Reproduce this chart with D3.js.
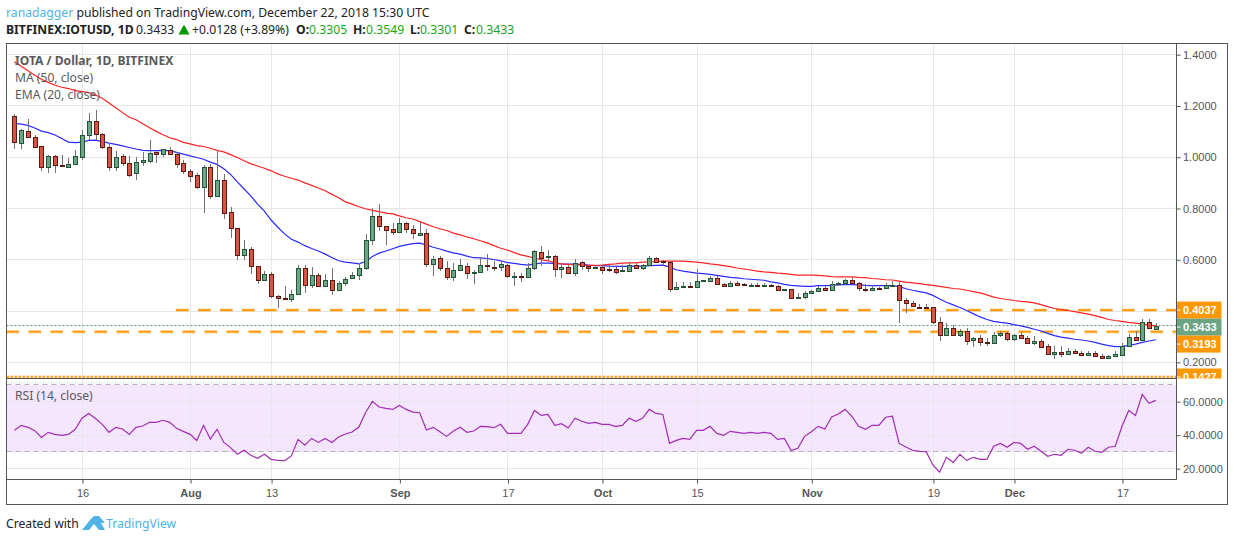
<!DOCTYPE html>
<html><head><meta charset="utf-8">
<script src="https://cdn.jsdelivr.net/npm/d3@7"></script>
<style>
html,body{margin:0;padding:0;background:#fff;overflow:hidden}
svg{display:block}
.head{font-family:"Noto Sans",sans-serif;font-size:12.2px;fill:#222}
.leg{font-family:"Noto Sans",sans-serif;font-size:12.1px;fill:#5a5a5a}
.ax text{font-family:"Liberation Sans",Arial,sans-serif;font-size:11px;fill:#555}
</style></head><body><svg id="c" width="1234" height="541"></svg>
<script>
const startDate = "2018-07-06";
const opens = [1.159,1.054,1.104,1.080,1.042,.960,1.003,.969,.960,.972,1.001,1.088,1.140,1.092,1.040,.962,1.004,.979,.937,.983,.987,1.021,1.014,1.030,1.014,.979,.947,.929,.885,.960,.850,.913,.785,.723,.617,.642,.574,.520,.545,.459,.451,.446,.467,.568,.500,.540,.498,.521,.481,.508,.527,.539,.566,.677,.770,.731,.719,.710,.743,.719,.698,.703,.582,.606,.566,.533,.560,.574,.548,.552,.580,.572,.570,.580,.535,.537,.532,.566,.630,.609,.614,.564,.572,.550,.591,.577,.568,.572,.565,.564,.556,.558,.580,.566,.578,.606,.595,.592,.485,.494,.498,.494,.516,.516,.529,.506,.496,.510,.506,.500,.503,.500,.503,.498,.482,.486,.450,.454,.469,.477,.490,.481,.504,.508,.521,.510,.486,.481,.491,.488,.499,.502,.444,.432,.417,.416,.416,.358,.306,.335,.306,.323,.287,.296,.280,.275,.308,.313,.291,.305,.296,.276,.282,.262,.234,.241,.232,.243,.238,.230,.238,.226,.217,.226,.228,.263,.300,.287,.358,.3305];
const highs = [1.167,1.109,1.151,1.088,1.045,1.010,1.010,1.008,.997,1.027,1.105,1.172,1.185,1.096,1.054,1.025,1.014,1.005,1.001,1.021,1.066,1.028,1.034,1.040,1.021,.988,.953,.937,.970,.973,1.030,.934,.805,.725,.678,.651,.576,.557,.553,.464,.499,.483,.580,.580,.573,.548,.546,.569,.517,.533,.553,.587,.701,.801,.817,.733,.744,.762,.748,.736,.746,.720,.613,.613,.595,.587,.604,.587,.561,.612,.622,.597,.597,.582,.553,.549,.587,.639,.654,.639,.619,.580,.580,.604,.597,.581,.578,.581,.581,.572,.581,.591,.587,.583,.616,.610,.600,.595,.512,.514,.514,.564,.522,.538,.538,.508,.517,.518,.510,.510,.511,.510,.507,.503,.487,.487,.470,.480,.483,.499,.496,.518,.515,.526,.531,.515,.507,.503,.492,.508,.518,.515,.452,.441,.429,.429,.416,.375,.355,.344,.328,.335,.297,.305,.293,.320,.324,.320,.309,.320,.301,.301,.289,.270,.262,.262,.254,.250,.243,.244,.243,.231,.230,.243,.274,.309,.321,.367,.367,.3549];
const lows = [1.031,1.031,1.075,1.036,.947,.939,.937,.960,.960,.972,.991,1.066,1.066,1.031,.946,.946,.966,.923,.911,.966,.976,.976,1.001,1.010,.957,.934,.904,.876,.781,.837,.845,.758,.683,.600,.600,.546,.507,.520,.450,.411,.442,.437,.467,.469,.489,.494,.498,.461,.481,.496,.525,.522,.561,.658,.714,.659,.698,.710,.706,.682,.697,.570,.535,.558,.520,.516,.557,.526,.504,.548,.557,.557,.557,.529,.499,.512,.527,.561,.577,.596,.534,.530,.546,.538,.561,.553,.564,.546,.553,.546,.553,.557,.564,.561,.574,.589,.574,.476,.481,.491,.491,.489,.512,.514,.502,.495,.495,.499,.498,.497,.498,.497,.494,.479,.482,.449,.449,.446,.468,.476,.479,.477,.499,.503,.503,.479,.476,.477,.483,.487,.495,.355,.394,.417,.406,.414,.351,.285,.301,.301,.298,.269,.258,.263,.262,.274,.298,.283,.285,.293,.270,.266,.258,.231,.212,.219,.227,.235,.227,.225,.219,.215,.212,.223,.227,.258,.285,.285,.328,.3301];
const closes = [1.058,1.105,1.079,1.040,.960,1.003,.969,.964,.973,1.003,1.088,1.140,1.092,1.040,.962,.999,.978,.931,.983,.988,1.018,1.014,1.031,1.014,.974,.948,.927,.885,.960,.850,.913,.781,.722,.617,.643,.574,.520,.546,.458,.450,.446,.467,.568,.500,.540,.496,.521,.481,.510,.525,.540,.569,.677,.770,.731,.718,.710,.743,.719,.703,.703,.582,.603,.566,.533,.560,.580,.548,.553,.580,.574,.569,.583,.535,.537,.532,.568,.634,.608,.614,.564,.572,.547,.587,.574,.566,.572,.561,.562,.553,.560,.580,.566,.580,.606,.593,.591,.485,.494,.498,.493,.517,.520,.529,.506,.496,.510,.503,.502,.503,.500,.503,.498,.481,.487,.450,.455,.470,.479,.490,.481,.506,.510,.521,.508,.490,.481,.490,.488,.502,.502,.442,.430,.419,.416,.415,.356,.306,.335,.306,.323,.283,.296,.279,.276,.308,.313,.291,.305,.294,.275,.282,.260,.232,.239,.232,.243,.238,.230,.238,.225,.217,.226,.231,.263,.300,.287,.358,.335,.3433];
const ma50 = [1.372,1.355,1.337,1.320,1.304,1.292,1.281,1.273,1.268,1.260,1.256,1.252,1.243,1.230,1.212,1.193,1.174,1.156,1.146,1.131,1.115,1.101,1.088,1.076,1.069,1.058,1.052,1.045,1.042,1.035,1.027,1.021,1.010,.999,.986,.974,.966,.957,.947,.935,.926,.918,.911,.900,.890,.880,.869,.855,.842,.826,.817,.807,.799,.793,.788,.782,.779,.771,.764,.759,.749,.739,.729,.721,.714,.704,.697,.689,.682,.674,.666,.655,.645,.638,.628,.619,.613,.607,.600,.596,.589,.584,.582,.581,.579,.578,.578,.579,.582,.584,.587,.588,.588,.591,.592,.593,.595,.595,.595,.595,.593,.591,.588,.584,.581,.577,.573,.568,.564,.560,.556,.553,.551,.548,.546,.543,.540,.540,.540,.539,.537,.534,.533,.533,.533,.531,.530,.527,.525,.522,.521,.517,.513,.510,.507,.503,.500,.496,.492,.488,.486,.481,.476,.471,.463,.454,.449,.445,.441,.438,.436,.432,.425,.417,.410,.406,.402,.398,.393,.388,.382,.375,.367,.363,.360,.356,.353,.349,.345,.342];
const ema20 = [1.132,1.129,1.124,1.114,1.102,1.096,1.087,1.073,1.059,1.057,1.059,1.066,1.067,1.061,1.055,1.050,1.044,1.038,1.032,1.027,1.026,1.026,1.027,1.026,1.019,1.012,1.005,.999,.992,.981,.972,.955,.933,.904,.876,.849,.817,.790,.755,.727,.701,.680,.669,.655,.644,.634,.622,.609,.596,.591,.588,.584,.593,.613,.626,.634,.643,.652,.658,.663,.665,.658,.649,.642,.634,.627,.622,.614,.608,.607,.605,.601,.596,.589,.586,.582,.579,.584,.587,.587,.586,.584,.583,.583,.582,.579,.577,.577,.575,.574,.574,.574,.575,.575,.577,.578,.579,.572,.561,.556,.552,.548,.546,.543,.539,.535,.531,.529,.526,.524,.522,.520,.514,.510,.504,.500,.498,.496,.496,.499,.499,.500,.502,.503,.503,.502,.500,.499,.499,.499,.499,.495,.487,.481,.476,.471,.461,.447,.434,.424,.414,.402,.389,.377,.367,.360,.356,.353,.347,.342,.336,.329,.322,.313,.304,.298,.294,.290,.287,.283,.278,.271,.265,.261,.262,.266,.271,.278,.283,.288];
const rsi14 = [42.9,45.9,44.7,42.7,38.7,41.7,40.5,39.9,40.5,43.5,50.1,53,50,46.5,41.7,44.7,43.7,40.5,44.7,45.5,47.7,47.7,48.9,47.7,44.1,42.3,40.5,36.9,45.9,37.7,43.5,35.7,32.6,28.6,31,28,26.2,28.6,25.6,25,24.8,27.6,37.5,34,38.1,35.7,38.1,35.7,38.9,40.7,41.9,44.9,53.6,60.2,56.8,56,55.4,57.8,55.4,53.8,53.4,43.1,44.7,42.1,39.3,42.5,44.7,41.7,42.5,45.3,45.1,44.5,46.5,41.1,41.1,41.1,46.5,54.8,51.8,52.4,45.9,46.9,44.3,50.1,48.3,47.1,47.7,46.5,46.5,45.3,45.9,50.1,48.3,50.1,55.4,53,52.4,35.1,36.9,38.1,37.5,42.9,42.9,45.3,41.1,39.9,42.3,41.7,41.1,41.7,41.1,41.7,41.1,37.5,38.1,30.8,32.2,39.3,42.1,45.3,43.7,50.9,52.6,55.4,51.3,45.3,43.5,45.9,45.9,50.7,51.3,35.1,33,31,30.4,30.2,22.2,17.9,26.8,23.8,28.6,25,26.8,25.6,25.6,33.4,35.1,32.8,35.7,35.1,31.6,33.4,30.4,27.4,28.6,28,31.6,31,29.2,32.8,30.4,29.8,32.8,33.4,45.3,54.8,51.8,64.4,59,60.8];
const priceTicks = [1.4,1.2,1.0,0.8,0.6,0.4,0.2];
const rsiTicks = [60,40,20];
const dateTicks = ["2018-07-16","2018-08-01","2018-08-13","2018-09-01","2018-09-17","2018-10-01","2018-10-15","2018-11-01","2018-11-19","2018-12-01","2018-12-17"];
const dateLabels = ["16","Aug","13","Sep","17","Oct","15","Nov","19","Dec","17"];
const levelLines = [0.4037,0.3193];
const levelStart = ["2018-07-30",null];
const supportLevel = 0.1427;
const lastPrice = 0.3433;
const rsiBand = [70,30];
const boxes = [["0.4037",0.4037,"#ff9800",45],["0.3433",0.3433,"#6ba583",45],["0.3193",0.3193,"#ff9800",44],["0.1427",0.1427,"#ff9800",45]];

const svg = d3.select("#c");
const L=6.5,R=1176.5,OR=1227.5,T=43.5,B=504.5,P=378.5,RB=479.5;
const x = d3.scaleUtc().domain([new Date("2018-07-16"),new Date("2018-12-17")]).range([82,1122]);
const y = d3.scaleLinear().domain([1.4,0.2]).range([54.7,362.3]);
const yr = d3.scaleLinear().domain([60,20]).range([401.7,468.7]);
const dates = opens.map((_,i)=>d3.utcDay.offset(new Date(startDate),i));
const tickDates = dateTicks.map(d=>new Date(d));
const snap = v=>Math.round(v)+.5;
const gridC="#e6e6e6";

svg.append("rect").attr("x",L).attr("width",R-L).attr("y",yr(rsiBand[0])).attr("height",yr(rsiBand[1])-yr(rsiBand[0])).attr("fill","#f4e6fe");

const grid = svg.append("g").attr("stroke",gridC).attr("stroke-width",1);
tickDates.forEach(d=>grid.append("line").attr("x1",snap(x(d))).attr("x2",snap(x(d))).attr("y1",T).attr("y2",RB).attr("stroke-opacity",.9));
priceTicks.forEach(v=>grid.append("line").attr("x1",L).attr("x2",R).attr("y1",snap(y(v)-.5)).attr("y2",snap(y(v)-.5)));
rsiTicks.forEach(v=>grid.append("line").attr("x1",L).attr("x2",R).attr("y1",snap(yr(v)-.5)).attr("y2",snap(yr(v)-.5)));
rsiBand.forEach(v=>svg.append("line").attr("x1",L).attr("x2",R).attr("y1",snap(yr(v)-.5)).attr("y2",snap(yr(v)-.5)).attr("stroke","#b9aec0").attr("stroke-dasharray","5 4"));

svg.append("line").attr("x1",L).attr("x2",R).attr("y1",snap(y(lastPrice)-.5)).attr("y2",snap(y(lastPrice)-.5)).attr("stroke","#5f9a7a").attr("stroke-dasharray","2 2");

function level(v,x0,dash){
  svg.append("line").attr("x1",x0).attr("x2",R).attr("y1",y(v)).attr("y2",y(v)).attr("stroke","#ffb74d").attr("stroke-opacity",.55).attr("stroke-width",3.4).attr("stroke-dasharray",dash);
  svg.append("line").attr("x1",x0).attr("x2",R).attr("y1",y(v)).attr("y2",y(v)).attr("stroke","#ff9800").attr("stroke-width",1.6).attr("stroke-dasharray",dash);
}
levelLines.forEach((v,i)=>level(v,levelStart[i]?x(new Date(levelStart[i]))-.5:L,"12.5 9.5"));
level(supportLevel,L,"2.5 1.5");

const lineOf = (yy)=>d3.line().x((d,i)=>x(dates[i])).y(d=>yy(d));
svg.append("path").attr("d",lineOf(y)(ema20)).attr("fill","none").attr("stroke","#2a2aff").attr("stroke-width",1.2);
svg.append("path").attr("d",lineOf(y)(ma50)).attr("fill","none").attr("stroke","#ff2222").attr("stroke-width",1.2);

const c = svg.append("g");
dates.forEach((d,i)=>{
  const up = closes[i]>=opens[i];
  const cx = Math.round(x(d));
  const yTop = Math.round(y(Math.max(opens[i],closes[i]))), yBot = Math.round(y(Math.min(opens[i],closes[i])));
  c.append("line").attr("x1",cx+.5).attr("x2",cx+.5).attr("y1",Math.round(y(highs[i]))).attr("y2",Math.round(y(lows[i]))).attr("stroke","#737375");
  c.append("rect").attr("x",cx-1.5).attr("width",4).attr("y",yTop+.5).attr("height",Math.max(yBot-yTop,1))
    .attr("fill",up?"#6ba583":"#d75442").attr("stroke",up?"#225437":"#5b1a13");
});

svg.append("path").attr("d",lineOf(yr)(rsi14)).attr("fill","none").attr("stroke","#a32cb4").attr("stroke-width",1.2);

const fr = svg.append("g").attr("stroke","#555").attr("fill","none");
fr.append("rect").attr("x",L).attr("y",T).attr("width",OR-L).attr("height",B-T);
fr.append("line").attr("x1",R).attr("x2",R).attr("y1",T).attr("y2",RB);
fr.append("line").attr("x1",L).attr("x2",R).attr("y1",RB).attr("y2",RB);

function styleAxis(g){g.classed("ax",true);g.select(".domain").remove();g.selectAll("line").attr("stroke","#555");}
svg.append("g").attr("transform",`translate(0.5,${RB})`).call(d3.axisBottom(x).tickValues(tickDates).tickSize(4).tickPadding(6).tickFormat((d,i)=>dateLabels[i])).call(styleAxis)
  .selectAll("text").style("font-weight",(d,i)=>/[A-Z]/.test(dateLabels[i])?"bold":"normal");
svg.append("g").attr("transform",`translate(${R},0)`).call(d3.axisRight(y).tickValues(priceTicks).tickSize(4).tickPadding(2.5).tickFormat(d3.format(".4f"))).call(styleAxis);
svg.append("g").attr("transform",`translate(${R},0)`).call(d3.axisRight(yr).tickValues(rsiTicks).tickSize(4).tickPadding(2.5).tickFormat(d3.format(".4f"))).call(styleAxis);

// price boxes: each box sits at its price, pushed down when it would overlap the one above
svg.append("clipPath").attr("id","bc").append("rect").attr("x",R).attr("y",T).attr("width",60).attr("height",P-T);
const bg = svg.append("g").attr("clip-path","url(#bc)");
let prevBottom = -Infinity;
boxes.forEach(([t,v,col,w])=>{
  const top = Math.max(y(v)-8.5, prevBottom);
  prevBottom = top+17;
  bg.append("rect").attr("x",R).attr("y",top).attr("width",w).attr("height",17).attr("fill",col);
  bg.append("line").attr("x1",R).attr("x2",R+4).attr("y1",top+8.5).attr("y2",top+8.5).attr("stroke","#fff");
  bg.append("text").attr("x",R+6.5).attr("y",top+12.6).attr("fill","#fff").attr("font-family","Liberation Sans").attr("font-weight","bold").attr("font-size",11).text(t);
});
fr.append("line").attr("x1",L).attr("x2",R).attr("y1",P).attr("y2",P);
svg.append("line").attr("x1",R).attr("x2",R).attr("y1",T).attr("y2",RB).attr("stroke","#555");

const legend = [["IOTA / Dollar, 1D, BITFINEX",65,"bold"],["MA (50, close)",82,"normal"],["EMA (20, close)",99,"normal"],["RSI (14, close)",400,"normal"]];
legend.forEach(([t,yy,w])=>svg.append("text").attr("class","leg").attr("x",15).attr("y",yy).attr("font-weight",w).text(t));

const h1 = svg.append("text").attr("class","head").attr("x",6).attr("y",17);
h1.append("tspan").style("fill","#4fb3e8").text("ranadagger");
h1.append("tspan").text(" published on TradingView.com, December 22, 2018 15:30 UTC");
const segs=[["BITFINEX:IOTUSD, 1D",6,"#222","bold"],["0.3433",136,"#222","normal"],["+0.0128 (+3.89%)",192,"#222","normal"],["O:",296,"#222","bold"],["0.3305",309,"#1aa51a","normal"],["H:",353,"#222","bold"],["0.3549",366,"#1aa51a","normal"],["L:",410,"#222","bold"],["0.3301",420,"#1aa51a","normal"],["C:",464,"#222","bold"],["0.3433",476,"#1aa51a","normal"]];
segs.forEach(([t,xx,col,w])=>svg.append("text").attr("class","head").attr("x",xx).attr("y",34).attr("font-weight",w).style("fill",col).text(t));
svg.append("path").attr("d","M178.5 34.5L189.5 34.5L184 24.5Z").attr("fill","#009900");

svg.append("text").attr("class","head").attr("x",6).attr("y",528).text("Created with");
svg.append("path").attr("d","M82 530L90 520L94 516L99 516L105 523L101 523L105 530L99 530L94 524L89 530Z").attr("fill","#4fb3e8");
svg.append("text").attr("class","head").attr("x",106).attr("y",528).style("fill","#4fb3e8").text("TradingView");
</script></body></html>
